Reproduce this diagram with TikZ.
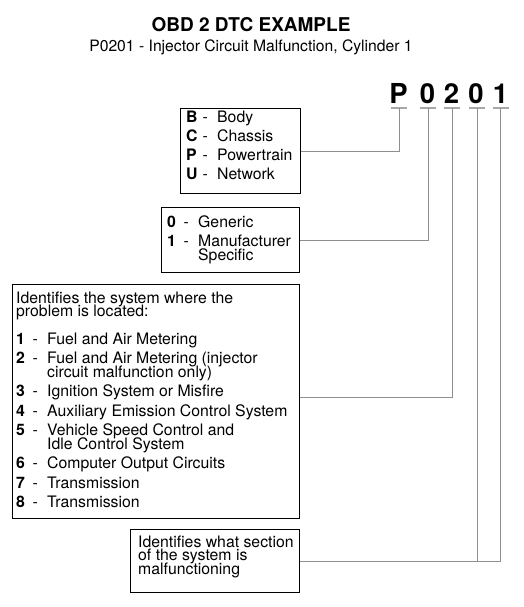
\documentclass[tikz,border=0pt]{standalone}
\usepackage{fontspec}
\setmainfont{TeX Gyre Heros}
\usetikzlibrary{calc}
\definecolor{linegray}{HTML}{8E8E8E}
\definecolor{ulgray}{HTML}{A8A8A8}
\newcommand\bodyfont{\fontsize{15.8}{13.5}\selectfont\lineskiplimit=-30pt\relax}
\newcommand\itm[2]{\makebox[16.5pt][l]{\textbf{#1}}\makebox[14.5pt][l]{-}#2}
\newcommand\cont{\hspace*{31pt}}
\tikzset{
  box/.style={draw=black, line width=1.1pt, inner sep=0pt, anchor=north west},
  wire/.style={draw=linegray, line width=1pt},
  uline/.style={draw=ulgray, line width=1.6pt},
  codechar/.style={font=\fontsize{27.5}{28}\bfseries\selectfont, inner sep=0pt, anchor=base},
  txt/.style={inner sep=0pt, anchor=base west, align=left, font=\bodyfont},
}
\begin{document}
\begin{tikzpicture}[x=1pt,y=-1pt]
\useasboundingbox (0,0) rectangle (523,607);
% titles
\node[font=\fontsize{19}{20}\bfseries\selectfont, anchor=base, inner sep=0pt] (title) at (251,32) {OBD 2 DTC EXAMPLE};
\node[font=\fontsize{15.7}{18}\selectfont, anchor=base, inner sep=0pt] (sub) at (251,52) {P0201 - Injector Circuit Malfunction, Cylinder 1};
% code characters
\node[codechar] (c1) at (398.5,103) {P};
\node[codechar] (c2) at (427.5,103) {0};
\node[codechar] (c3) at (451.5,103) {2};
\node[codechar] (c4) at (476,103) {0};
\node[codechar] (c5) at (500.5,103) {1};
\coordinate (u1) at (399,108);
\coordinate (u2) at (428,108);
\coordinate (u3) at (452,108);
\coordinate (u4) at (477,108);
\coordinate (u5) at (500.5,108);
% boxes
\node[box, minimum width=120pt, minimum height=85pt] (b1) at (180,108) {};
\node[box, minimum width=138pt, minimum height=65pt] (b2) at (161,207) {};
\node[box, minimum width=287pt, minimum height=234pt] (b3) at (12,284) {};
\node[box, minimum width=169pt, minimum height=63pt] (b4) at (130,529) {};
% box texts (anchor = baseline of last line)
\node[txt] (t1) at (186,179.5) {\itm{B}{Body}\\[5.5pt]\itm{C}{Chassis}\\[5.5pt]\itm{P}{Powertrain}\\[5.5pt]\itm{U}{Network}};
\node[txt] (t2) at (167,260) {\itm{0}{Generic}\\[5.5pt]\itm{1}{Manufacturer}\\\cont Specific};
\node[txt] (t3) at (16,507.5) {Identifies the system where the\\problem is located:\\[14pt]%
\itm{1}{Fuel and Air Metering}\\[6pt]%
\itm{2}{Fuel and Air Metering (injector}\\\cont circuit malfunction only)\\[6pt]%
\itm{3}{Ignition System or Misfire}\\[6pt]%
\itm{4}{Auxiliary Emission Control System}\\[6pt]%
\itm{5}{Vehicle Speed Control and}\\\cont Idle Control System\\[6pt]%
\itm{6}{Computer Output Circuits}\\[6pt]%
\itm{7}{Transmission}\\[6pt]%
\itm{8}{Transmission}};
\node[txt] (t4) at (138,574) {Identifies what section\\of the system is\\malfunctioning};
% underlines
\foreach \u in {u1,u2,u3,u4,u5}{\draw[uline] ([xshift=-8pt]\u) -- ([xshift=8pt]\u);}
% connectors
\draw[wire] (b1.east) -| (u1);
\draw[wire] (b2.east) -| (u2);
\draw[wire] ([yshift=4pt]b3.east) -| (u3);
\draw[wire] (b4.east) -| (u5);
\draw[wire] (u4) -- (u4 |- b4.east);
\end{tikzpicture}
\end{document}
